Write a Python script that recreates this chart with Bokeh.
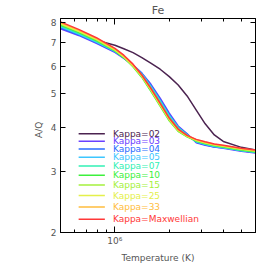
from bokeh.plotting import figure
from bokeh.models import FixedTicker, LogAxis, CustomJSTickFormatter, Range1d
from bokeh.core.properties import value
from bokeh.embed import file_html
from bokeh.resources import INLINE

# ---- data ----
temperature = [5.0e5, 6.3e5, 7.9e5, 1.0e6, 1.12e6, 1.26e6, 1.41e6, 1.58e6, 1.78e6, 2.0e6,
               2.24e6, 2.51e6, 2.82e6, 3.16e6, 3.55e6, 3.98e6, 5.01e6, 6.0e6]

kappa_02 = [7.70, 7.41, 7.12, 6.89, 6.73, 6.56, 6.35, 6.12, 5.88, 5.60, 5.30, 4.93, 4.49, 4.10, 3.81, 3.65, 3.51, 3.45]
kappa_03 = [7.68, 7.35, 6.98, 6.57, 6.32, 6.04, 5.73, 5.33, 4.86, 4.40, 4.04, 3.84, 3.62, 3.56, 3.52, 3.49, 3.42, 3.38]
kappa_04 = [7.73, 7.38, 7.01, 6.60, 6.34, 6.04, 5.72, 5.29, 4.81, 4.36, 4.01, 3.83, 3.63, 3.57, 3.52, 3.50, 3.43, 3.39]
kappa_05 = [7.78, 7.42, 7.04, 6.62, 6.36, 6.04, 5.70, 5.26, 4.78, 4.33, 4.00, 3.81, 3.64, 3.58, 3.53, 3.50, 3.44, 3.40]
kappa_07 = [7.82, 7.46, 7.07, 6.64, 6.37, 6.04, 5.67, 5.22, 4.75, 4.30, 3.99, 3.80, 3.65, 3.59, 3.54, 3.51, 3.44, 3.40]
kappa_10 = [7.87, 7.50, 7.10, 6.64, 6.34, 5.98, 5.57, 5.09, 4.61, 4.18, 3.90, 3.76, 3.66, 3.60, 3.55, 3.52, 3.45, 3.41]
kappa_15 = [7.91, 7.54, 7.14, 6.66, 6.37, 6.00, 5.59, 5.12, 4.63, 4.20, 3.91, 3.77, 3.67, 3.61, 3.56, 3.53, 3.46, 3.42]
kappa_25 = [7.95, 7.57, 7.17, 6.69, 6.39, 6.02, 5.61, 5.14, 4.65, 4.22, 3.93, 3.78, 3.68, 3.62, 3.57, 3.54, 3.47, 3.43]
kappa_33 = [8.00, 7.61, 7.21, 6.72, 6.42, 6.05, 5.63, 5.16, 4.68, 4.24, 3.94, 3.79, 3.69, 3.63, 3.58, 3.55, 3.48, 3.44]
maxwellian = [8.04, 7.65, 7.24, 6.75, 6.45, 6.08, 5.66, 5.19, 4.70, 4.26, 3.96, 3.80, 3.70, 3.64, 3.59, 3.56, 3.49, 3.45]

series = [kappa_02, kappa_03, kappa_04, kappa_05, kappa_07, kappa_10, kappa_15, kappa_25, kappa_33, maxwellian]
labels = ["Kappa=02", "Kappa=03", "Kappa=04", "Kappa=05", "Kappa=07", "Kappa=10",
          "Kappa=15", "Kappa=25", "Kappa=33", "Kappa=Maxwellian"]
colors = ["#4b2350", "#6a40ff", "#2a6cff", "#3cc6ff", "#30f0b4", "#3cf03c",
          "#a4f03c", "#e4f04a", "#ffbd3c", "#ff3838"]

y_ticks = [2, 3, 4, 5, 6, 7, 8]
x_major = [1.0e6]
x_minor = [6e5, 7e5, 8e5, 9e5, 2e6, 3e6, 4e6, 5e6]

FONT = "DejaVu Sans"
TXT = "#555555"

p = figure(width=265, height=265, x_axis_type="log", y_axis_type="log",
           x_range=Range1d(5.0e5, 6.0e6), y_range=Range1d(2.0, 8.22),
           output_backend="svg", toolbar_location=None, title="Fe",
           min_border_left=60, min_border_right=10, min_border_top=18, min_border_bottom=31)
p.grid.visible = False
p.outline_line_color = "black"
p.background_fill_color = "white"
p.border_fill_color = "white"

p.title.align = "center"
p.title.text_font = FONT
p.title.text_font_size = "11px"
p.title.text_font_style = "normal"
p.title.text_color = TXT
p.title.standoff = 3

xt = FixedTicker(ticks=x_major, minor_ticks=x_minor)
yt = FixedTicker(ticks=y_ticks, minor_ticks=[])

def style(ax, major_in, minor_in):
    ax.axis_line_color = "black"
    ax.major_tick_line_color = "black"
    ax.minor_tick_line_color = "black"
    ax.major_tick_in = major_in
    ax.major_tick_out = 0
    ax.minor_tick_in = minor_in
    ax.minor_tick_out = 0
    ax.major_label_text_font = FONT
    ax.major_label_text_font_size = "9px"
    ax.major_label_text_color = TXT
    ax.axis_label_text_font = FONT
    ax.axis_label_text_font_size = "9px"
    ax.axis_label_text_font_style = "normal"
    ax.axis_label_text_color = TXT

xa = p.xaxis[0]
xa.ticker = xt
xa.formatter = CustomJSTickFormatter(code="return tick == 1000000 ? '10\u2076' : '';")
xa.axis_label = "Temperature (K)"
style(xa, 6, 3)
xa.major_label_standoff = 3
xa.axis_label_standoff = 4

ya = p.yaxis[0]
ya.ticker = yt
ya.formatter = CustomJSTickFormatter(code="return tick.toFixed(0);")
ya.axis_label = "   A/Q"
style(ya, 5, 0)
ya.major_label_standoff = 4
ya.axis_label_standoff = 4

blank = "return '';"
top = LogAxis(ticker=FixedTicker(ticks=x_major, minor_ticks=x_minor),
              formatter=CustomJSTickFormatter(code=blank))
style(top, 6, 3)
top.major_label_standoff = 0
top.major_label_text_font_size = "0px"
p.add_layout(top, "above")

right = LogAxis(ticker=FixedTicker(ticks=y_ticks, minor_ticks=[]),
                formatter=CustomJSTickFormatter(code=blank))
style(right, 5, 0)
right.major_label_standoff = 0
right.major_label_text_font_size = "0px"
p.add_layout(right, "right")

for ys, c in zip(series, colors):
    p.line(temperature, ys, line_color=c, line_width=1.5)

# manual legend (laid out in data space like the original)
leg_x0, leg_x1, leg_tx = 6.3e5, 8.8e5, 9.75e5
for i, (lab, c) in enumerate(zip(labels, colors)):
    yy = 3.84 - 0.184 * i
    p.line([leg_x0, leg_x1], [yy, yy], line_color=c, line_width=1.5)
    p.text(x=[leg_tx], y=[yy], text=[lab], text_color=c, text_font=value(FONT),
           text_font_size="9px", text_baseline="middle", text_align="left")

open("out.html", "w").write(file_html(p, INLINE))
